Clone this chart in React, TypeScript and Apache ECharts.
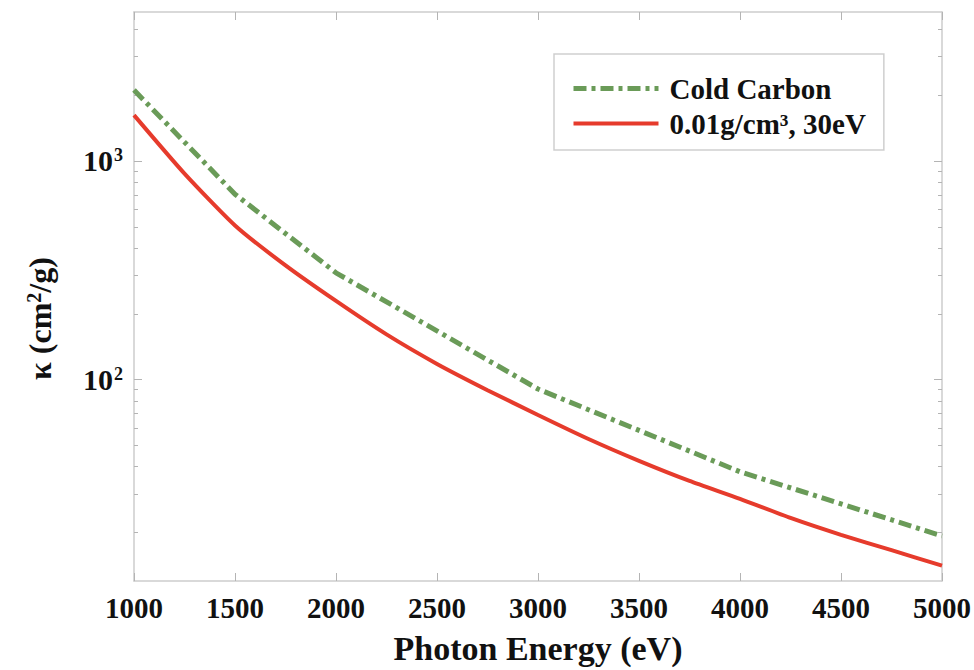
import React, { useEffect, useRef } from "react";
import * as echarts from "echarts";

// Photon energy grids (eV)
const coldCarbonEnergy = [1000, 1500, 2000, 3000, 4000, 5000];
const warmCarbonEnergy = [
  1000, 1250, 1500, 1750, 2000, 2250, 2500, 2750, 3000, 3250, 3500, 3750, 4000,
  4250, 4500, 4750, 5000,
];

// Opacity kappa (cm^2/g)
const coldCarbonKappa = [2110, 705, 308, 90.6, 37.9, 19.3];
const warmCarbonKappa = [
  1620, 875, 507, 333, 229, 161, 118, 89.5, 68.9, 53.5, 42.5, 34.4, 28.5, 23.3,
  19.5, 16.6, 14.1,
];

const seriesNames = ["Cold Carbon", "0.01g/cm³, 30eV"];

const xTicks = [1000, 1500, 2000, 2500, 3000, 3500, 4000, 4500, 5000];
const yMajorTicks = [100, 1000];
const yMinorTicks = [
  20, 30, 40, 50, 60, 70, 80, 90, 200, 300, 400, 500, 600, 700, 800, 900, 2000,
  3000, 4000,
];

const X_MIN = 1000;
const X_MAX = 5000;
const Y_MIN = 12;
const Y_MAX = 4800;

const FONT = "'Liberation Serif', 'Times New Roman', serif";
const TEXT_COLOR = "#111111";
const FRAME = { color: "#cdcdcd", width: 1.5 };
const TICK = { color: "#b4b4b4", width: 1 };

export default function App() {
  const ref = useRef<HTMLDivElement>(null);

  useEffect(() => {
    if (!ref.current) return;
    const chart = echarts.init(ref.current, null, { renderer: "svg" });

    const logAxisBase = {
      type: "log" as const,
      logBase: 10,
      min: Y_MIN,
      max: Y_MAX,
      splitLine: { show: false },
      minorTick: { show: false },
      minorSplitLine: { show: false },
    };

    const supLabelRich = {
      b: {
        fontSize: 30,
        fontWeight: "bold",
        fontFamily: FONT,
        color: TEXT_COLOR,
        verticalAlign: "bottom",
      },
      s: {
        fontSize: 18,
        fontWeight: "bold",
        fontFamily: FONT,
        color: TEXT_COLOR,
        verticalAlign: "top",
        padding: [0, 0, 0, 1],
      },
    };

    const option = {
      animation: false,
      backgroundColor: "#ffffff",
      grid: { left: 134, right: 32, top: 12, bottom: 88, containLabel: false },
      legend: {
        show: true,
        orient: "vertical",
        left: 554,
        top: 54,
        data: seriesNames,
        itemWidth: 85,
        itemHeight: 14,
        itemGap: 6,
        padding: [20, 18, 12, 17],
        borderColor: "#cfcfcf",
        borderWidth: 1.5,
        backgroundColor: "#ffffff",
        itemStyle: { opacity: 0, borderWidth: 0 },
        lineStyle: { width: "inherit", type: "inherit" },
        textStyle: {
          fontSize: 29,
          fontWeight: "bold",
          fontFamily: FONT,
          color: TEXT_COLOR,
          padding: [0, 0, 0, 6],
        },
      },
      xAxis: [
        {
          type: "value",
          position: "bottom",
          min: X_MIN,
          max: X_MAX,
          interval: 500,
          splitLine: { show: false },
          axisLine: { show: true, lineStyle: FRAME },
          axisTick: { show: true, inside: true, length: 8, lineStyle: TICK },
          axisLabel: {
            show: true,
            margin: 12,
            fontSize: 29,
            fontWeight: "bold",
            fontFamily: FONT,
            color: TEXT_COLOR,
            customValues: xTicks,
            formatter: (v: number) => String(v),
          },
          name: "Photon Energy (eV)",
          nameLocation: "middle",
          nameGap: 50,
          nameTextStyle: {
            fontSize: 34,
            fontWeight: "bold",
            fontFamily: FONT,
            color: TEXT_COLOR,
          },
        },
        {
          type: "value",
          position: "top",
          min: X_MIN,
          max: X_MAX,
          interval: 500,
          splitLine: { show: false },
          axisLine: { show: true, lineStyle: FRAME },
          axisTick: { show: true, inside: true, length: 8, lineStyle: TICK },
          axisLabel: { show: false },
        },
      ],
      yAxis: [
        {
          ...logAxisBase,
          position: "left",
          axisLine: { show: true, lineStyle: FRAME },
          axisTick: {
            show: true,
            inside: true,
            length: 8,
            lineStyle: TICK,
            customValues: yMajorTicks,
          },
          axisLabel: {
            show: true,
            margin: 11,
            customValues: yMajorTicks,
            formatter: (v: number) =>
              `{b|10}{s|${Math.round(Math.log10(v))}}`,
            rich: supLabelRich,
          },
          name: "{b|κ (cm}{s|2}{b|/g)}",
          nameLocation: "middle",
          nameRotate: 90,
          nameGap: 78,
          nameTextStyle: {
            padding: [0, 44, 0, 0],
            rich: {
              b: {
                fontSize: 32,
                fontWeight: "bold",
                fontFamily: FONT,
                color: TEXT_COLOR,
                verticalAlign: "bottom",
              },
              s: {
                fontSize: 20,
                fontWeight: "bold",
                fontFamily: FONT,
                color: TEXT_COLOR,
                verticalAlign: "top",
              },
            },
          },
        },
        {
          ...logAxisBase,
          position: "right",
          axisLine: { show: true, lineStyle: FRAME },
          axisTick: {
            show: true,
            inside: true,
            length: 8,
            lineStyle: TICK,
            customValues: yMajorTicks,
          },
          axisLabel: { show: false },
        },
        {
          ...logAxisBase,
          position: "left",
          axisLine: { show: false },
          axisTick: {
            show: true,
            inside: true,
            length: 4,
            lineStyle: TICK,
            customValues: yMinorTicks,
          },
          axisLabel: { show: false },
        },
        {
          ...logAxisBase,
          position: "right",
          axisLine: { show: false },
          axisTick: {
            show: true,
            inside: true,
            length: 4,
            lineStyle: TICK,
            customValues: yMinorTicks,
          },
          axisLabel: { show: false },
        },
      ],
      series: [
        {
          name: seriesNames[0],
          type: "line",
          xAxisIndex: 0,
          yAxisIndex: 0,
          symbol: "none",
          showSymbol: false,
          smooth: false,
          lineStyle: { color: "#6a9b58", width: 5, type: [13, 5, 4, 5] },
          itemStyle: { color: "#6a9b58" },
          data: coldCarbonEnergy.map((e, i) => [e, coldCarbonKappa[i]]),
          z: 2,
        },
        {
          name: seriesNames[1],
          type: "line",
          xAxisIndex: 0,
          yAxisIndex: 0,
          symbol: "none",
          showSymbol: false,
          smooth: 0.2,
          lineStyle: { color: "#e63b2c", width: 4, type: "solid" },
          itemStyle: { color: "#e63b2c" },
          data: warmCarbonEnergy.map((e, i) => [e, warmCarbonKappa[i]]),
          z: 3,
        },
      ],
    };

    chart.setOption(option as any);
    return () => {
      chart.dispose();
    };
  }, []);

  return (
    <div
      ref={ref}
      style={{
        position: "fixed",
        left: 0,
        top: 0,
        width: 974,
        height: 670,
        background: "#ffffff",
      }}
    />
  );
}
